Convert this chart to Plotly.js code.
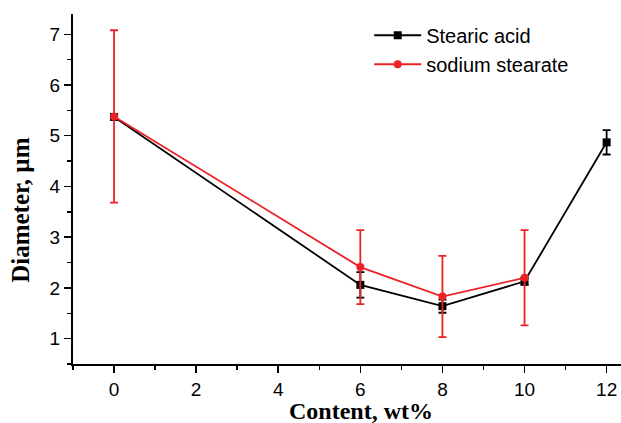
<!DOCTYPE html>
<html><head><meta charset="utf-8">
<script src="https://cdn.plot.ly/plotly-3.0.1.min.js"></script>
<style>html,body{margin:0;padding:0;background:#fff}</style>
</head><body>
<div id="chart" style="width:621px;height:423px"></div>
<script>
const content = [0, 6, 8, 10, 12];
const stearicAcid = [5.37, 2.06, 1.64, 2.13, 4.87];
const stearicAcidErr = [0.05, 0.25, 0.13, 0.07, 0.24];
const contentNa = [0, 6, 8, 10];
const sodiumStearate = [5.38, 2.41, 1.83, 2.20];
const sodiumStearateErr = [1.70, 0.73, 0.80, 0.94];
const xTicks = [0, 2, 4, 6, 8, 10, 12];
const yTicks = [1, 2, 3, 4, 5, 6, 7];
const xTitle = 'Content, wt%';
const yTitle = 'Diameter, µm';

const traces = [
  {x: content, y: stearicAcid, name: 'Stearic acid', type: 'scatter', mode: 'lines+markers',
   line: {color: '#000000', width: 1.8}, marker: {symbol: 'square', size: 8, color: '#000000'},
   error_y: {type: 'data', array: stearicAcidErr, visible: true, color: '#000000', thickness: 1.8, width: 4}},
  {x: contentNa, y: sodiumStearate, name: 'sodium stearate', type: 'scatter', mode: 'lines+markers',
   line: {color: '#ec2226', width: 1.8}, marker: {symbol: 'circle', size: 8, color: '#ec2226'},
   error_y: {type: 'data', array: sodiumStearateErr, visible: true, color: '#ec2226', thickness: 1.8, width: 4}}
];

const titleFont = {family: 'Liberation Serif, Times New Roman, serif', color: '#000', weight: 'bold'};
const layout = {
  width: 621, height: 423,
  margin: {l: 73, r: 0, t: 14, b: 59},
  paper_bgcolor: '#ffffff', plot_bgcolor: '#ffffff',
  showlegend: true,
  legend: {x: 0.5405, y: 0.995, xanchor: 'left', yanchor: 'top', bgcolor: 'rgba(0,0,0,0)',
           font: {family: 'Liberation Sans, Arial, sans-serif', size: 20, color: '#000'},
           tracegroupgap: 0, itemwidth: 47},
  xaxis: {range: [-1, 12.35], tickvals: xTicks, ticktext: xTicks.map(String),
          showgrid: false, zeroline: false, showline: true, linecolor: '#000', linewidth: 2,
          ticks: 'outside', ticklen: 7, tickwidth: 1.5, tickcolor: '#000',
          minor: {tickvals: [-1, 1, 3, 5, 7, 9, 11], ticks: 'outside', ticklen: 4, tickwidth: 1.5, tickcolor: '#000', showgrid: false},
          tickfont: {family: 'Liberation Sans, Arial, sans-serif', size: 19, color: '#000'}},
  yaxis: {range: [0.5, 7.4], tickvals: yTicks, ticktext: yTicks.map(String),
          showgrid: false, zeroline: false, showline: true, linecolor: '#000', linewidth: 2,
          ticks: 'outside', ticklen: 7, tickwidth: 1.5, tickcolor: '#000',
          minor: {tickvals: [0.5, 1.5, 2.5, 3.5, 4.5, 5.5, 6.5], ticks: 'outside', ticklen: 4, tickwidth: 1.5, tickcolor: '#000', showgrid: false},
          tickfont: {family: 'Liberation Sans, Arial, sans-serif', size: 19, color: '#000'}},
  annotations: [
    {text: xTitle, xref: 'paper', yref: 'paper', x: 0.526, y: -0.134, xanchor: 'center', yanchor: 'middle',
     showarrow: false, font: Object.assign({size: 24}, titleFont)},
    {text: yTitle, xref: 'paper', yref: 'paper', x: -0.097, y: 0.44, xanchor: 'center', yanchor: 'middle',
     textangle: -90, showarrow: false, font: Object.assign({size: 25}, titleFont)}
  ]
};
Plotly.newPlot('chart', traces, layout, {displayModeBar: false, staticPlot: true});
</script>
</body></html>
